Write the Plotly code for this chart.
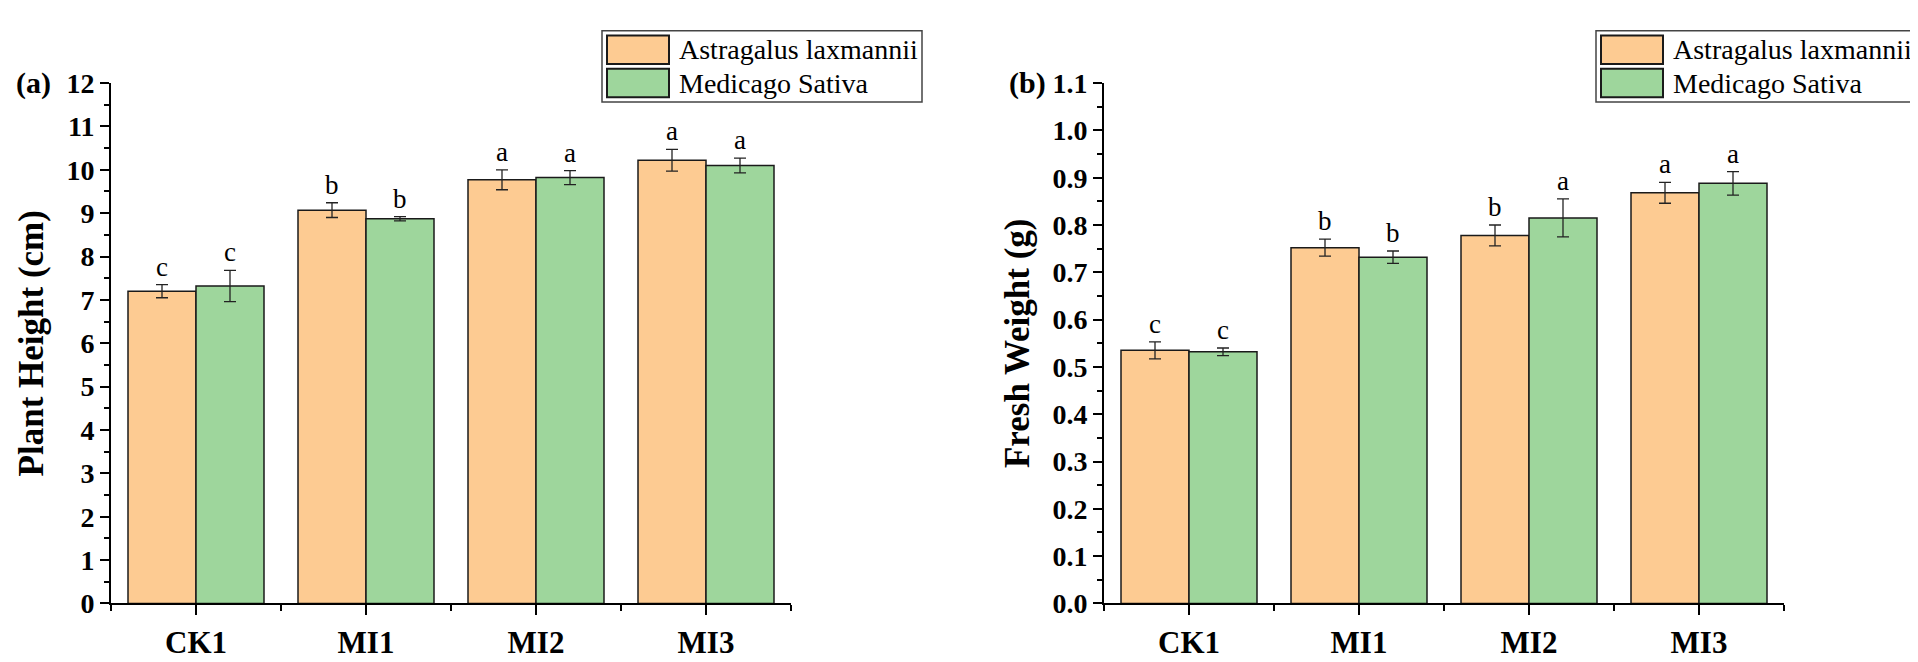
import plotly.graph_objects as go

W, H = 1918, 662
SERIF = "Liberation Serif"

groups = ["CK1", "MI1", "MI2", "MI3"]
species = ["Astragalus laxmannii", "Medicago Sativa"]
colors = ["#FDCB92", "#9ED69C"]

# (a) plant height, cm
height_astragalus = [7.20, 9.07, 9.77, 10.22]
height_medicago = [7.32, 8.87, 9.82, 10.10]
height_astragalus_err = [0.15, 0.17, 0.23, 0.25]
height_medicago_err = [0.36, 0.05, 0.16, 0.17]
height_letters_astragalus = ["c", "b", "a", "a"]
height_letters_medicago = ["c", "b", "a", "a"]

# (b) fresh weight, g
weight_astragalus = [0.535, 0.752, 0.778, 0.868]
weight_medicago = [0.532, 0.732, 0.815, 0.888]
weight_astragalus_err = [0.018, 0.018, 0.022, 0.022]
weight_medicago_err = [0.008, 0.013, 0.040, 0.025]
weight_letters_astragalus = ["c", "b", "b", "a"]
weight_letters_medicago = ["c", "b", "a", "a"]

xpos = list(range(len(groups)))
BARGAP = 0.2


def px(x):
    return x / W


def py(y):
    return 1 - y / H


fig = go.Figure()
annotations = []

panels = [
    ("x", "y", [height_astragalus, height_medicago],
     [height_astragalus_err, height_medicago_err],
     [height_letters_astragalus, height_letters_medicago]),
    ("x2", "y2", [weight_astragalus, weight_medicago],
     [weight_astragalus_err, weight_medicago_err],
     [weight_letters_astragalus, weight_letters_medicago]),
]

for xa, ya, series, errs, letters in panels:
    for s in range(2):
        fig.add_trace(go.Bar(
            x=xpos, y=series[s], name=species[s],
            xaxis=xa, yaxis=ya, offsetgroup=str(s), showlegend=False,
            marker=dict(color=colors[s], line=dict(color="#1a1a1a", width=1.5)),
            error_y=dict(type="data", array=errs[s], color="#222222",
                         thickness=1.3, width=6),
        ))
        # significance letters above each error bar
        shift = (s - 0.5) * (1 - BARGAP) / 2
        for i in xpos:
            annotations.append(dict(
                x=i + shift, y=series[s][i] + errs[s][i], xref=xa, yref=ya,
                text=letters[s][i], showarrow=False, yanchor="bottom", yshift=1,
                font=dict(family=SERIF, size=27, color="black"),
            ))

tickfont = dict(family=SERIF, size=28, color="black", weight="bold")
catfont = dict(family=SERIF, size=31, color="black", weight="bold")
titlefont = dict(family=SERIF, size=35, color="black", weight="bold")


def xaxis(domain, anchor):
    return dict(
        domain=domain, anchor=anchor, range=[-0.5, len(groups) - 0.5],
        tickmode="array", tickvals=xpos, ticktext=groups,
        showline=True, linecolor="black", linewidth=2,
        ticks="outside", ticklen=10, tickwidth=2, tickcolor="black",
        minor=dict(tickmode="linear", tick0=0.5, dtick=1, ticks="outside",
                   ticklen=6, tickwidth=2, tickcolor="black"),
        showgrid=False, zeroline=False, tickfont=catfont,
    )


def yaxis(anchor, rng, dtick, fmt, title):
    return dict(
        domain=[0.0801, 0.9048], anchor=anchor, range=rng,
        tick0=0, dtick=dtick, tickformat=fmt,
        showline=True, linecolor="black", linewidth=2,
        ticks="outside", ticklen=9, tickwidth=2, tickcolor="black",
        minor=dict(dtick=dtick / 2, ticks="outside", ticklen=5,
                   tickwidth=2, tickcolor="black"),
        showgrid=False, zeroline=False, tickfont=tickfont,
        title=dict(text=title, font=titlefont, standoff=12),
    )


# hand-drawn legends (big swatches, as in the original)
shapes = []
for left in [594, 1588]:
    shapes.append(dict(type="rect", xref="paper", yref="paper",
                       x0=px(left), x1=px(left + 320), y0=py(83), y1=py(8),
                       line=dict(color="#444444", width=1.5)))
    for s in range(2):
        top = 13 + s * 35
        shapes.append(dict(type="rect", xref="paper", yref="paper",
                           x0=px(left + 5), x1=px(left + 67),
                           y0=py(top + 30), y1=py(top),
                           fillcolor=colors[s],
                           line=dict(color="#1a1a1a", width=2)))
        annotations.append(dict(x=px(left + 75), y=py(top + 15), xref="paper",
                                yref="paper", text=species[s], showarrow=False,
                                xanchor="left", yanchor="middle",
                                font=dict(family=SERIF, size=28, color="black")))

panel_font = dict(family=SERIF, size=30, color="black", weight="bold")
annotations.append(dict(x=px(6), y=12, xref="paper", yref="y", text="(a)",
                        showarrow=False, xanchor="left", yanchor="middle",
                        font=panel_font))
annotations.append(dict(x=px(999), y=1.1, xref="paper", yref="y2", text="(b)",
                        showarrow=False, xanchor="left", yanchor="middle",
                        font=panel_font))

fig.update_layout(
    width=W, height=H,
    margin=dict(l=0, r=0, t=0, b=0),
    paper_bgcolor="white", plot_bgcolor="white",
    barmode="group", bargap=BARGAP, bargroupgap=0,
    xaxis=xaxis([px(103), px(783)], "y"),
    yaxis=yaxis("x", [0, 12], 1, "d", "Plant Height (cm)"),
    xaxis2=xaxis([px(1096), px(1776)], "y2"),
    yaxis2=yaxis("x2", [0, 1.1], 0.1, ".1f", "Fresh Weight (g)"),
    shapes=shapes,
    annotations=annotations,
)

fig.write_html("out.html")
